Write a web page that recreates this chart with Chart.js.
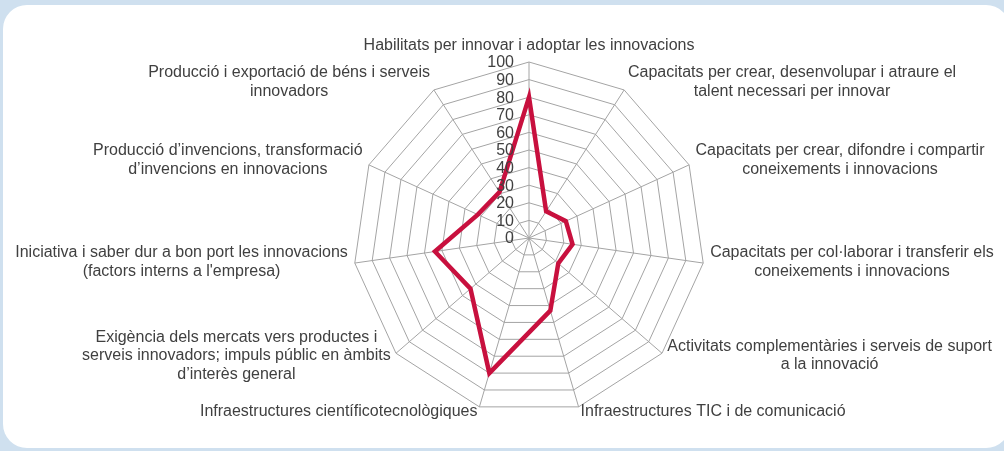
<!DOCTYPE html>
<html>
<head>
<meta charset="utf-8">
<script src="https://cdn.jsdelivr.net/npm/chart.js@4.4.0/dist/chart.umd.min.js"></script>
<style>
  html, body { margin: 0; padding: 0; }
  body { width: 1004px; height: 451px; background: #cfe0ef; overflow: hidden; position: relative; }
  #panel { position: absolute; left: 3px; top: 5px; width: 1007px; height: 443px; background: #fff; border-radius: 24px; }
  #wrap { position: absolute; left: 0; top: 0; width: 1004px; height: 451px; }
</style>
</head>
<body>
<div id="panel"></div>
<div id="wrap"><canvas id="radar"></canvas></div>
<script>
// eixos del radar (cada etiqueta en línies)
const categories = [
  ['Habilitats per innovar i adoptar les innovacions'],
  ['Capacitats per crear, desenvolupar i atraure el', 'talent necessari per innovar'],
  ['Capacitats per crear, difondre i compartir', 'coneixements i innovacions'],
  ['Capacitats per col·laborar i transferir els', 'coneixements i innovacions'],
  ['Activitats complementàries i serveis de suport', 'a la innovació'],
  ['Infraestructures TIC i de comunicació'],
  ['Infraestructures científicotecnològiques'],
  ['Exigència dels mercats vers productes i', 'serveis innovadors; impuls públic en àmbits', 'd\u2019interès general'],
  ['Iniciativa i saber dur a bon port les innovacions', '(factors interns a l\'empresa)'],
  ['Producció d\u2019invencions, transformació', 'd\u2019invencions en innovacions'],
  ['Producció i exportació de béns i serveis', 'innovadors']
];
const valors = [80, 18, 23, 25, 22, 43, 80, 44, 54, 32, 31];
const tickLabels = [0, 10, 20, 30, 40, 50, 60, 70, 80, 90, 100];

const fontText = '"Liberation Sans", Arial, sans-serif';

// etiquetes pròpies: línies centrades com a l'original
const etiquetesPlugin = {
  id: 'etiquetes',
  afterDraw(chart) {
    const scale = chart.scales.r;
    const ctx = chart.ctx;
    ctx.save();
    ctx.fillStyle = '#404040';
    ctx.textBaseline = 'middle';
    ctx.textAlign = 'center';

    // etiquetes dels eixos
    ctx.font = '16px ' + fontText;
    const lh = 18.5;
    categories.forEach((linies, i) => {
      const p = scale.getPointPosition(i, scale.drawingArea + 7);
      const ang = scale.getIndexAngle(i);
      const s = Math.sin(ang), c = Math.cos(ang);
      const w = Math.max(...linies.map(t => ctx.measureText(t).width));
      const h = linies.length * lh;
      let cx = p.x, top;
      if (Math.abs(s) < 0.05) {
        top = c > 0 ? p.y - h : p.y;
      } else {
        cx = s > 0 ? p.x + w / 2 : p.x - w / 2;
        top = p.y - h / 2 - 2;
      }
      linies.forEach((t, k) => ctx.fillText(t, cx, top + lh * k + lh / 2));
    });

    // valors de l'escala
    ctx.font = '16px ' + fontText;
    ctx.textAlign = 'right';
    tickLabels.forEach(v => {
      const d = scale.getDistanceFromCenterForValue(v);
      ctx.fillText(String(v), scale.xCenter - 15, scale.yCenter - d + 1);
    });
    ctx.restore();
  }
};

new Chart(document.getElementById('radar'), {
  type: 'radar',
  data: {
    labels: categories,
    datasets: [{
      data: valors,
      borderColor: '#c8103e',
      borderWidth: 4.5,
      pointRadius: 0,
      pointHoverRadius: 0,
      fill: false,
      tension: 0
    }]
  },
  options: {
    responsive: true,
    maintainAspectRatio: false,
    animation: false,
    layout: { padding: { left: 100, right: 46, top: 62, bottom: 37 } },
    plugins: { legend: { display: false }, tooltip: { enabled: false } },
    scales: {
      r: {
        min: 0,
        max: 100,
        ticks: { display: false, stepSize: 10 },
        pointLabels: { display: false },
        grid: { color: '#a4a4a4', lineWidth: 1 },
        angleLines: { color: '#a4a4a4', lineWidth: 1 }
      }
    }
  },
  plugins: [etiquetesPlugin]
});
</script>
</body>
</html>
